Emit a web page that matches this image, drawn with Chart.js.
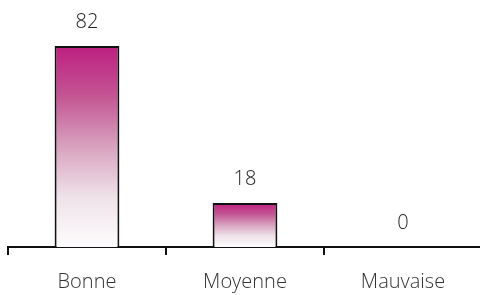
<!DOCTYPE html>
<html>
<head>
<meta charset="utf-8">
<script src="https://cdn.jsdelivr.net/npm/chart.js@4"></script>
<style>
  html, body { margin: 0; padding: 0; background: #fff; overflow: hidden; }
  #wrap { width: 482px; height: 295px; overflow: hidden; }
</style>
</head>
<body>
<div id="wrap"><canvas id="chart" width="482" height="309"></canvas></div>
<script>
const categories = ["Bonne", "Moyenne", "Mauvaise"];
const values = [82, 18, 0];
const yMax = 100;

const labelFont = "300 20px 'Open Sans'";

// draws the value above each bar
const valueLabels = {
  id: "valueLabels",
  afterDatasetsDraw(chart) {
    const ctx = chart.ctx;
    const meta = chart.getDatasetMeta(0);
    ctx.save();
    ctx.font = labelFont;
    ctx.fillStyle = "#222";
    ctx.textAlign = "center";
    ctx.textBaseline = "middle";
    meta.data.forEach(function (bar, i) {
      ctx.fillText(String(values[i]), bar.x, bar.y - 24);
    });
    ctx.restore();
  }
};

// each bar fades from magenta at its top to white at the axis
function barGradient(context) {
  const chart = context.chart;
  const y = chart.scales.y;
  if (!chart.chartArea || !y) return "#be2181";
  const top = y.getPixelForValue(values[context.dataIndex]);
  const bottom = y.getPixelForValue(0);
  if (!isFinite(top) || bottom - top < 1) return "#be2181";
  const g = chart.ctx.createLinearGradient(0, top, 0, bottom);
  g.addColorStop(0, "#bd1f80");
  g.addColorStop(0.25, "#c45593");
  g.addColorStop(0.5, "#d8a2bf");
  g.addColorStop(0.75, "#efe2e9");
  g.addColorStop(1, "#fdfcfd");
  return g;
}

const ctx = document.getElementById("chart").getContext("2d");
new Chart(ctx, {
  type: "bar",
  data: {
    labels: categories,
    datasets: [{
      data: values,
      backgroundColor: barGradient,
      borderColor: "#111",
      borderWidth: 2,
      borderSkipped: "bottom",
      categoryPercentage: 1,
      barPercentage: 0.41
    }]
  },
  options: {
    responsive: false,
    animation: false,
    layout: { padding: { left: 8, right: 0, top: 2, bottom: 0 } },
    plugins: { legend: { display: false }, tooltip: { enabled: false } },
    scales: {
      y: { display: false, min: 0, max: yMax },
      x: {
        border: { display: true, color: "#111", width: 2 },
        grid: { offset: true, drawOnChartArea: false, drawTicks: true, tickLength: 8, color: "#111", lineWidth: 2 },
        ticks: { color: "#333", font: { family: "'Open Sans'", size: 20, weight: 300 }, padding: 15 }
      }
    }
  },
  plugins: [valueLabels]
});
</script>
</body>
</html>
